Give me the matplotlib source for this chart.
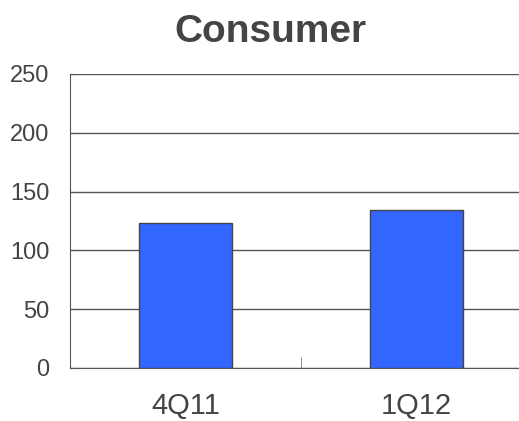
import matplotlib
matplotlib.use('Agg')
import matplotlib.pyplot as plt

quarters = ['4Q11', '1Q12']
consumer = [123, 134]
y_ticks = [0, 50, 100, 150, 200, 250]

txt = '#444444'
plt.rcParams['font.family'] = ['Liberation Sans', 'DejaVu Sans']

fig = plt.figure(figsize=(5.19, 4.21), dpi=100)
# axes runs a bit past the right edge of the figure, like the source image
ax = fig.add_axes([70/519, 53/421, 462/519, 294/421])

x = list(range(len(quarters)))
ax.bar(x, consumer, width=0.405, color='#3366ff', edgecolor='#444444', lw=1, zorder=3)

ax.set_xlim(-0.5, 1.5)
ax.set_ylim(0, 250)
ax.set_yticks(y_ticks)
ax.yaxis.grid(True, color='#555555', lw=1, zorder=0)
ax.set_axisbelow(True)

ax.set_xticks(x)
ax.set_xticklabels(quarters, fontsize=21, color=txt)
ax.set_xticks([0.5], minor=True)
ax.tick_params(axis='x', which='major', length=0, pad=17)
ax.tick_params(axis='x', which='minor', direction='in', length=8, color='#777777')
ax.tick_params(axis='y', direction='in', length=3, color='#555555', pad=15,
               labelcolor=txt, labelsize=17)

for side in ['top', 'right']:
    ax.spines[side].set_visible(False)
ax.spines['left'].set_color('#555555')
ax.spines['bottom'].set_color('#555555')

fig.text(270/519, 1 - 32/421, 'Consumer', ha='center', va='center',
         fontsize=28, weight='bold', color=txt)

fig.savefig('out.png', dpi=100)
